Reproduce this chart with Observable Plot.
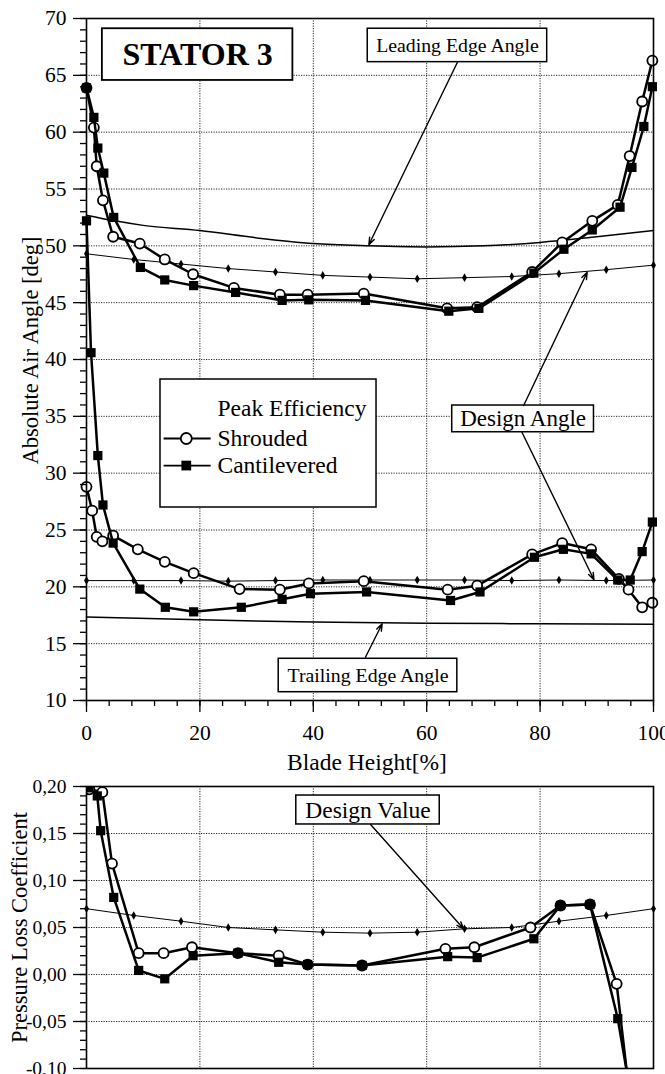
<!DOCTYPE html>
<html>
<head>
<meta charset="utf-8">
<script src="https://cdn.jsdelivr.net/npm/d3@7"></script>
<script src="https://cdn.jsdelivr.net/npm/@observablehq/plot@0.6"></script>
<style>
  html, body { margin: 0; padding: 0; background: white; }
  #chart { width: 665px; height: 1074px; overflow: hidden; }
  #chart svg { display: block; overflow: visible; }
</style>
</head>
<body>
<div id="chart"></div>
<script>
// ---------- Top panel: absolute air angle ----------
const xShroudUp = [0, 1.3, 1.8, 2.9, 4.7, 9.4, 13.8, 18.8, 26.0, 34.1, 39.0, 48.9, 63.6, 68.9, 78.6, 83.9, 89.2, 93.7, 95.8, 98.0, 99.8];
const yShroudUp = [63.9, 60.4, 57.0, 54.0, 50.8, 50.2, 48.8, 47.5, 46.3, 45.7, 45.7, 45.8, 44.5, 44.6, 47.7, 50.3, 52.2, 53.6, 57.9, 62.7, 66.3];
const xCantUp = [0, 1.3, 2.0, 3.05, 4.8, 9.5, 13.8, 18.9, 26.3, 34.5, 39.2, 49.2, 63.9, 69.2, 78.9, 84.2, 89.2, 94.1, 96.2, 98.3, 99.8];
const yCantUp = [63.9, 61.3, 58.6, 56.4, 52.5, 48.1, 47.0, 46.5, 45.9, 45.2, 45.25, 45.2, 44.25, 44.5, 47.6, 49.7, 51.4, 53.4, 56.9, 60.5, 64.0];
const xShroudLo = [0, 1.0, 1.8, 2.8, 4.7, 9.05, 13.8, 18.9, 27.0, 34.1, 39.2, 48.9, 63.7, 68.9, 78.6, 83.9, 89.0, 93.9, 95.6, 98.0, 99.8];
const yShroudLo = [28.8, 26.7, 24.4, 24.0, 24.5, 23.3, 22.2, 21.2, 19.8, 19.75, 20.3, 20.5, 19.75, 20.1, 22.85, 23.85, 23.3, 20.7, 19.75, 18.2, 18.6];
const xCantLo = [0, 0.8, 2.0, 2.9, 4.7, 9.4, 13.9, 18.9, 27.3, 34.5, 39.5, 49.4, 64.2, 69.4, 79.0, 84.1, 89.0, 93.7, 95.9, 98.0, 99.8];
const yCantLo = [52.2, 40.6, 31.55, 27.2, 23.85, 19.8, 18.2, 17.8, 18.2, 18.9, 19.4, 19.55, 18.8, 19.55, 22.6, 23.3, 22.9, 20.6, 20.6, 23.1, 25.7];

const xDesign = [0, 8.33, 16.67, 25, 33.33, 41.67, 50, 58.33, 66.67, 75, 83.33, 91.67, 100];
const yDesignUp = [49.3, 48.8, 48.4, 48.0, 47.7, 47.4, 47.25, 47.1, 47.2, 47.3, 47.55, 47.9, 48.3];
const yDesignLo = [20.55, 20.55, 20.55, 20.5, 20.55, 20.6, 20.6, 20.6, 20.6, 20.55, 20.6, 20.55, 20.6];

const xLeading = [0, 5, 10, 20, 30, 40, 50, 60, 70, 80, 90, 100];
const yLeading = [52.7, 52.2, 51.8, 51.35, 50.7, 50.2, 50.0, 49.9, 50.0, 50.3, 50.8, 51.35];
const xTrailing = [0, 20, 40, 60, 80, 100];
const yTrailing = [17.35, 17.1, 16.9, 16.8, 16.75, 16.7];

const yTicksTop = [10, 15, 20, 25, 30, 35, 40, 45, 50, 55, 60, 65, 70];
const xTicks = [0, 20, 40, 60, 80, 100];

// ---------- Bottom panel: pressure loss coefficient ----------
const xShroudLoss = [0.5, 2.8, 4.5, 9.2, 13.6, 18.6, 26.7, 33.9, 39.0, 48.6, 63.3, 68.4, 78.3, 83.6, 88.8, 93.5, 95.9];
const yShroudLoss = [0.197, 0.194, 0.118, 0.0227, 0.0227, 0.029, 0.0227, 0.020, 0.0106, 0.0096, 0.0273, 0.029, 0.050, 0.0734, 0.0745, -0.0099, -0.135];
const xCantLoss = [0.4, 1.9, 2.5, 4.8, 9.2, 13.8, 18.8, 26.7, 33.9, 39.0, 48.6, 63.7, 68.9, 78.9, 83.6, 88.8, 93.7, 95.9];
const yCantLoss = [0.1986, 0.190, 0.153, 0.082, 0.0043, -0.0046, 0.020, 0.0227, 0.013, 0.0106, 0.0096, 0.019, 0.018, 0.038, 0.0734, 0.0745, -0.047, -0.125];
const yDesignLoss = [0.070, 0.0628, 0.0567, 0.050, 0.0475, 0.045, 0.044, 0.045, 0.0486, 0.050, 0.0567, 0.0628, 0.070];
const yTicksBottom = [-0.10, -0.05, 0.00, 0.05, 0.10, 0.15, 0.20];

// ---------- Annotations (data coordinates) ----------
const titleBox = [{x1: 2.8, x2: 36.4, y1: 64.55, y2: 69.1, label: "STATOR 3"}];
const topBoxes = [
  {x1: 49.6, x2: 81.25, y1: 66.16, y2: 69.1, label: "Leading Edge Angle", size: 19.8},
  {x1: 64.5, x2: 89.5, y1: 33.6, y2: 35.95, label: "Design Angle", size: 23},
  {x1: 33.9, x2: 65.4, y1: 10.73, y2: 13.67, label: "Trailing Edge Angle", size: 19.8}
];
const topArrows = [
  {x1: 65.4, y1: 66.13, x2: 49.8, y2: 50.1},
  {x1: 77.1, y1: 35.95, x2: 88.3, y2: 47.68},
  {x1: 76.8, y1: 33.6, x2: 89.5, y2: 20.62},
  {x1: 49.2, y1: 13.8, x2: 52.15, y2: 16.75}
];
const legendBox = [{x1: 13.05, x2: 51.15, y1: 26.98, y2: 38.24}];
const legendTexts = ["Peak Efficiency", "Shrouded", "Cantilevered"];
const legendY = [35.7, 33.05, 30.67];
const legendTextX = 23.1;
const legendLineX = [13.6, 21.9];
const legendMarkX = 17.6;

const bottomBoxes = [{x1: 37.0, x2: 62.3, y1: 0.1596, y2: 0.1904, label: "Design Value", size: 23.5}];
const bottomArrows = [{x1: 50.1, y1: 0.1596, x2: 66.5, y2: 0.0486}];

const pts = (xs, ys) => xs.map((x, i) => ({x, y: ys[i]}));
const serif = "'Liberation Serif', 'Times New Roman', Times, serif";
const comma = d => d.toFixed(2).replace(".", ",");

const dataLine = {x: "x", y: "y", stroke: "black", strokeWidth: 2.5};
const circleDots = {x: "x", y: "y", r: 5, fill: "white", stroke: "black", strokeWidth: 1.8};
const squareDots = {x: "x", y: "y", r: 5.2, symbol: "square", fill: "black"};
const diamondDots = {x: "x", y: "y", r: 2.6, symbol: "diamond", fill: "black"};
const gridStyle = {stroke: "black", strokeOpacity: 0.85, strokeWidth: 1, strokeDasharray: "1.2,1.3"};
const boxStyle = {x1: "x1", x2: "x2", y1: "y1", y2: "y2", fill: "white", stroke: "black", strokeWidth: 1.5};
const boxCenter = {x: d => (d.x1 + d.x2) / 2, y: d => (d.y1 + d.y2) / 2, text: "label", fill: "black"};
const arrowStyle = {x1: "x1", y1: "y1", x2: "x2", y2: "y2", stroke: "black", strokeWidth: 1.4, headLength: 8, headAngle: 40};

const topPlot = Plot.plot({
  width: 665, height: 775,
  marginTop: 18, marginBottom: 75, marginLeft: 86, marginRight: 12,
  style: {fontFamily: serif, fontSize: "21px", color: "black", background: "white", overflow: "visible"},
  x: {domain: [0, 100]},
  y: {domain: [10, 70]},
  marks: [
    Plot.gridY(yTicksTop.slice(1, -1), gridStyle),
    Plot.gridX(xTicks.slice(1, -1), gridStyle),
    Plot.line(pts(xLeading, yLeading), {x: "x", y: "y", stroke: "black", strokeWidth: 1.5, curve: "monotone-x"}),
    Plot.line(pts(xTrailing, yTrailing), {x: "x", y: "y", stroke: "black", strokeWidth: 1.5, curve: "monotone-x"}),
    Plot.line(pts(xDesign, yDesignUp), {x: "x", y: "y", stroke: "black", strokeWidth: 1}),
    Plot.dot(pts(xDesign, yDesignUp), diamondDots),
    Plot.line(pts(xDesign, yDesignLo), {x: "x", y: "y", stroke: "black", strokeWidth: 1}),
    Plot.dot(pts(xDesign, yDesignLo), diamondDots),
    Plot.line(pts(xShroudUp, yShroudUp), dataLine),
    Plot.line(pts(xShroudLo, yShroudLo), dataLine),
    Plot.dot(pts(xShroudUp, yShroudUp), circleDots),
    Plot.dot(pts(xShroudLo, yShroudLo), circleDots),
    Plot.line(pts(xCantUp, yCantUp), dataLine),
    Plot.line(pts(xCantLo, yCantLo), dataLine),
    Plot.dot(pts(xCantUp, yCantUp), squareDots),
    Plot.dot(pts(xCantLo, yCantLo), squareDots),
    Plot.rect(titleBox, {...boxStyle, strokeWidth: 1.8}),
    Plot.text(titleBox, {...boxCenter, fontSize: 32, fontWeight: "bold"}),
    Plot.rect(topBoxes, boxStyle),
    Plot.text(topBoxes, {...boxCenter, fontSize: d => d.size}),
    Plot.arrow(topArrows, arrowStyle),
    Plot.rect(legendBox, boxStyle),
    Plot.text(legendTexts, {x: legendTextX, y: (d, i) => legendY[i], text: d => d, textAnchor: "start", fontSize: 23.5, fill: "black"}),
    Plot.link(legendY.slice(1), {x1: legendLineX[0], x2: legendLineX[1], y1: d => d, y2: d => d, stroke: "black", strokeWidth: 1.8}),
    Plot.dot([legendY[1]], {x: legendMarkX, y: d => d, r: 5.5, fill: "white", stroke: "black", strokeWidth: 1.8}),
    Plot.dot([legendY[2]], {x: legendMarkX, y: d => d, r: 5.5, symbol: "square", fill: "black"}),
    Plot.axisY(d3.range(10, 71, 1), {tickSize: 6, tickFormat: () => "", label: null, strokeWidth: 1.3}),
    Plot.axisY(yTicksTop, {tickSize: 13, tickPadding: 7, label: null, fontSize: 21.5, strokeWidth: 1.3}),
    Plot.axisX(d3.range(0, 101, 4), {tickSize: 6, tickFormat: () => "", label: null, strokeWidth: 1.3}),
    Plot.axisX(xTicks, {tickSize: 12, tickPadding: 12, label: null, fontSize: 21.5, strokeWidth: 1.3}),
    Plot.frame({stroke: "black", strokeWidth: 1.6}),
    Plot.text(["Absolute Air Angle [deg]"], {frameAnchor: "left", textAnchor: "middle", lineAnchor: "middle",
      text: d => d, rotate: -90, dx: -56, dy: -9, fontSize: 22.5, fill: "black"}),
    Plot.text(["Blade Height[%]"], {frameAnchor: "bottom", textAnchor: "middle", lineAnchor: "middle",
      text: d => d, dy: 62, dx: -3, fontSize: 23.5, fill: "black"})
  ]
});

const bottomPlot = Plot.plot({
  width: 665, height: 299,
  marginTop: 11, marginBottom: 6, marginLeft: 86, marginRight: 12,
  style: {fontFamily: serif, fontSize: "19.5px", color: "black", background: "white", overflow: "visible"},
  x: {domain: [0, 100], axis: null},
  y: {domain: [-0.10, 0.20]},
  marks: [
    Plot.gridY(yTicksBottom.slice(1, -1), gridStyle),
    Plot.gridX(xTicks.slice(1, -1), gridStyle),
    Plot.line(pts(xDesign, yDesignLoss), {x: "x", y: "y", stroke: "black", strokeWidth: 1}),
    Plot.dot(pts(xDesign, yDesignLoss), diamondDots),
    Plot.line(pts(xShroudLoss, yShroudLoss), {...dataLine, clip: true}),
    Plot.dot(pts(xShroudLoss, yShroudLoss), {...circleDots, clip: true}),
    Plot.line(pts(xCantLoss, yCantLoss), {...dataLine, clip: true}),
    Plot.dot(pts(xCantLoss, yCantLoss), {...squareDots, clip: true}),
    Plot.rect(bottomBoxes, boxStyle),
    Plot.text(bottomBoxes, {...boxCenter, fontSize: d => d.size}),
    Plot.arrow(bottomArrows, arrowStyle),
    Plot.axisY(d3.range(-0.10, 0.2001, 0.01), {tickSize: 6, tickFormat: () => "", label: null, strokeWidth: 1.3}),
    Plot.axisY(yTicksBottom, {tickSize: 13, tickPadding: 7, tickFormat: comma, label: null, fontSize: 19.5, strokeWidth: 1.3}),
    Plot.frame({stroke: "black", strokeWidth: 1.6}),
    Plot.text(["Pressure Loss Coefficient"], {frameAnchor: "left", textAnchor: "middle", lineAnchor: "middle",
      text: d => d, rotate: -90, dx: -67, dy: 0, fontSize: 22.5, fill: "black"})
  ]
});

const chartDiv = document.getElementById("chart");
chartDiv.appendChild(topPlot);
chartDiv.appendChild(bottomPlot);
</script>
</body>
</html>
